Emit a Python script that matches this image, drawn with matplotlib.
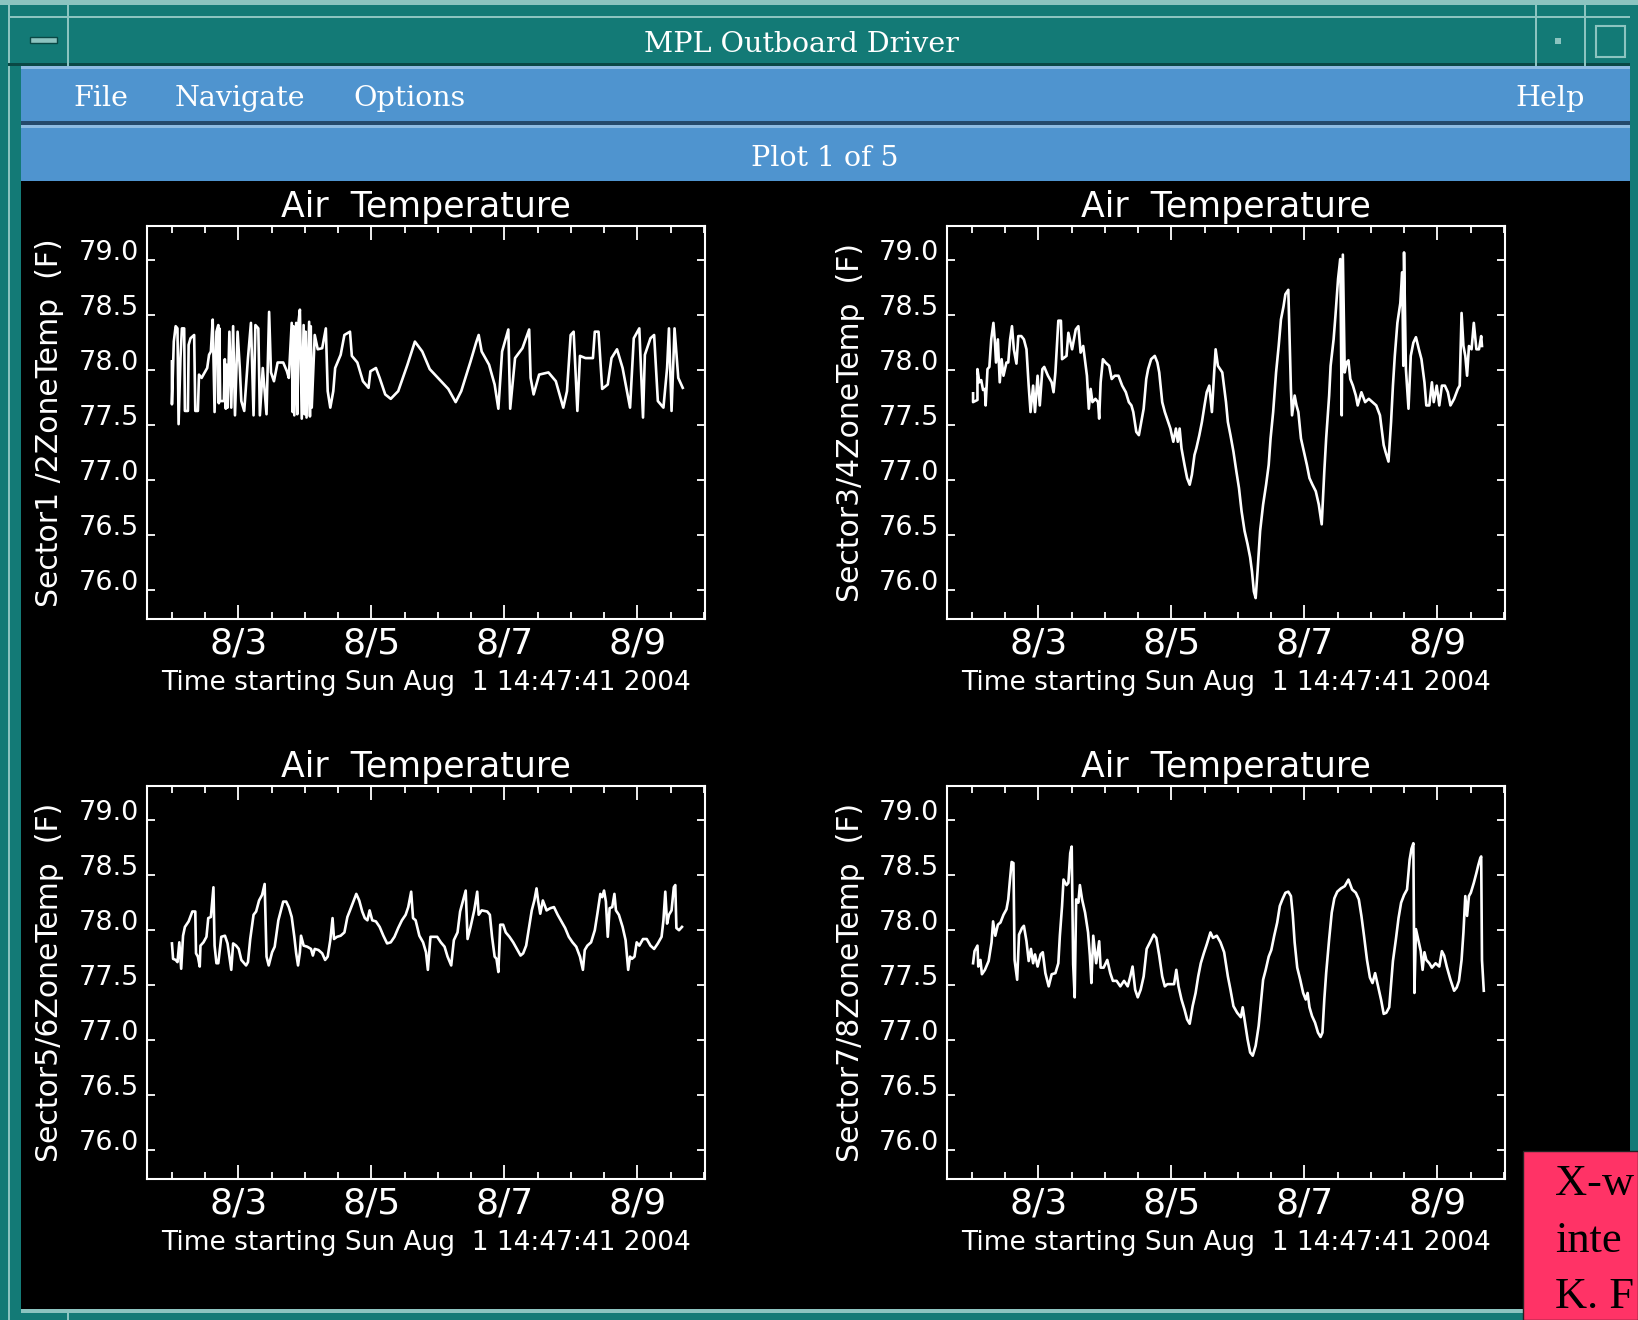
import matplotlib
matplotlib.use("Agg")
import matplotlib.pyplot as plt
from matplotlib.patches import Rectangle
import numpy as np

plt.rcParams["font.family"] = ["DejaVu Sans"]

W, H = 1638, 1320

# colours of the window chrome
TEAL = "#137a76"
TEAL_LIGHT = "#8cc4c0"
TEAL_DARK = "#0a4845"
BLUE = "#4f94cf"
BLUE_DARK = "#24496b"
BLUE_LIGHT = "#8dbbe2"
RED = "#ff3366"

window_title = "MPL Outboard Driver"
menu_left = ["File", "Navigate", "Options"]
menu_right = "Help"
plot_counter = "Plot 1 of 5"
note_lines = ["X-w", "inte", "K. F"]

plot_title = "Air  Temperature"
x_label = "Time starting Sun Aug  1 14:47:41 2004"
# days since Aug 1 14:47:41
x_major = [1.3836, 3.3836, 5.3836, 7.3836]
x_major_labels = ["8/3", "8/5", "8/7", "8/9"]
y_ticks = [76.0, 76.5, 77.0, 77.5, 78.0, 78.5, 79.0]

# (days since start, degrees F)
sector12 = [(0.385, 78.08), (0.385, 77.69), (0.413, 78.26), (0.441, 78.40), (0.468, 78.38), (0.485, 77.51),
            (0.513, 78.11), (0.535, 78.38), (0.569, 78.38), (0.580, 77.63), (0.625, 77.63), (0.636, 78.23),
            (0.664, 78.29), (0.719, 78.32), (0.736, 77.63), (0.775, 77.63), (0.792, 77.96), (0.831, 77.93),
            (0.887, 77.99), (0.915, 78.02), (0.943, 78.14), (0.970, 78.17), (0.998, 78.46), (1.026, 77.62),
            (1.054, 78.35), (1.082, 78.41), (1.090, 77.70), (1.098, 78.38), (1.110, 77.72), (1.166, 77.72),
            (1.180, 78.10), (1.195, 77.65), (1.205, 78.05), (1.221, 77.66), (1.249, 78.35),
            (1.277, 77.66), (1.305, 78.40), (1.333, 77.59), (1.372, 78.35), (1.405, 78.02), (1.428, 77.72),
            (1.472, 77.63), (1.528, 78.11), (1.573, 78.43), (1.612, 77.59), (1.640, 78.41), (1.684, 78.38),
            (1.707, 77.59), (1.751, 78.02), (1.807, 77.60), (1.846, 78.53), (1.874, 77.98), (1.919, 77.90),
            (1.974, 78.07), (2.058, 78.07), (2.114, 77.99), (2.142, 77.93), (2.186, 78.43), (2.200, 77.62),
            (2.212, 78.40), (2.225, 77.59), (2.253, 78.43), (2.270, 77.60), (2.290, 78.45), (2.309, 78.55),
            (2.337, 77.56), (2.365, 78.41), (2.380, 77.60), (2.395, 78.35), (2.409, 77.57), (2.448, 78.44),
            (2.460, 77.58), (2.472, 78.40),
            (2.487, 77.66), (2.532, 78.32), (2.577, 78.19), (2.644, 78.20), (2.699, 78.38), (2.727, 77.81),
            (2.766, 77.66), (2.811, 77.81), (2.839, 78.02), (2.922, 78.14), (2.978, 78.32), (3.062, 78.35),
            (3.090, 78.13), (3.173, 78.07), (3.257, 77.90), (3.341, 77.84), (3.369, 77.99), (3.452, 78.02),
            (3.508, 77.93), (3.592, 77.78), (3.675, 77.74), (3.787, 77.81), (3.926, 78.05), (4.038, 78.26),
            (4.149, 78.17), (4.261, 78.01), (4.400, 77.92), (4.540, 77.83), (4.651, 77.71), (4.735, 77.81),
            (4.875, 78.08), (4.958, 78.25), (4.997, 78.32), (5.042, 78.17), (5.153, 78.05), (5.237, 77.87),
            (5.293, 77.65), (5.349, 78.17), (5.443, 78.37), (5.471, 77.65), (5.544, 78.11), (5.655, 78.20),
            (5.756, 78.37), (5.778, 77.93), (5.823, 77.78), (5.906, 77.96), (6.046, 77.98), (6.157, 77.90),
            (6.269, 77.66), (6.325, 77.81), (6.380, 78.32), (6.425, 78.35), (6.481, 77.63), (6.520, 78.13),
            (6.603, 78.11), (6.715, 78.11), (6.743, 78.35), (6.799, 78.35), (6.854, 77.83), (6.938, 77.87),
            (6.994, 78.11), (7.077, 78.19), (7.161, 78.02), (7.273, 77.66), (7.329, 78.29), (7.412, 78.38),
            (7.468, 77.57), (7.496, 78.14), (7.580, 78.29), (7.635, 78.32), (7.691, 77.72), (7.775, 77.66),
            (7.830, 78.02), (7.858, 78.38), (7.897, 77.63), (7.942, 78.38), (7.998, 77.93), (8.065, 77.84)]

sector34 = [(0.402, 77.79), (0.402, 77.71), (0.468, 77.73), (0.468, 78.01), (0.496, 77.89), (0.524, 77.91),
            (0.552, 77.82), (0.580, 77.83), (0.591, 77.68), (0.619, 78.01), (0.647, 78.03), (0.675, 78.28),
            (0.708, 78.43), (0.731, 78.25), (0.747, 78.07), (0.775, 78.28), (0.803, 77.89), (0.831, 78.10),
            (0.859, 77.95), (0.904, 78.07), (0.931, 78.07), (0.959, 78.28), (0.987, 78.40), (1.015, 78.19),
            (1.054, 78.06), (1.082, 78.31), (1.127, 78.31), (1.166, 78.28), (1.205, 78.19), (1.238, 77.86),
            (1.266, 77.62), (1.305, 77.86), (1.333, 77.62), (1.372, 77.95), (1.405, 77.68), (1.444, 78.01),
            (1.472, 78.03), (1.528, 77.95), (1.584, 77.89), (1.612, 77.80), (1.640, 77.98), (1.684, 78.45),
            (1.723, 78.45), (1.740, 78.10), (1.807, 78.13), (1.835, 78.34), (1.891, 78.19), (1.946, 78.37),
            (1.985, 78.40), (2.019, 78.16), (2.058, 78.22), (2.114, 77.95), (2.142, 77.65), (2.170, 77.83),
            (2.197, 77.71), (2.242, 77.74), (2.281, 77.71), (2.298, 77.56), (2.320, 77.89), (2.354, 78.10),
            (2.393, 78.07), (2.448, 78.04), (2.487, 77.92), (2.532, 77.95), (2.588, 77.95), (2.644, 77.86),
            (2.699, 77.80), (2.744, 77.71), (2.783, 77.68), (2.811, 77.62), (2.856, 77.44), (2.895, 77.41),
            (2.922, 77.50), (2.967, 77.65), (3.006, 77.92), (3.034, 78.01), (3.079, 78.10), (3.134, 78.13),
            (3.173, 78.07), (3.201, 77.98), (3.246, 77.71), (3.285, 77.62), (3.324, 77.55), (3.369, 77.47),
            (3.413, 77.35), (3.452, 77.47), (3.480, 77.35), (3.508, 77.47), (3.536, 77.29), (3.581, 77.14),
            (3.620, 77.02), (3.659, 76.96), (3.692, 77.05), (3.731, 77.23), (3.759, 77.29), (3.804, 77.41),
            (3.843, 77.53), (3.882, 77.68), (3.915, 77.80), (3.954, 77.86), (3.993, 77.62), (4.027, 77.98),
            (4.049, 78.19), (4.083, 78.04), (4.149, 77.98), (4.205, 77.71), (4.233, 77.53), (4.272, 77.41),
            (4.317, 77.26), (4.361, 77.08), (4.400, 76.93), (4.439, 76.72), (4.484, 76.54), (4.529, 76.42),
            (4.568, 76.30), (4.596, 76.17), (4.624, 75.99), (4.651, 75.93), (4.679, 76.17), (4.718, 76.54),
            (4.763, 76.78), (4.808, 76.96), (4.847, 77.14), (4.875, 77.38), (4.914, 77.62), (4.958, 77.98),
            (4.997, 78.22), (5.031, 78.46), (5.070, 78.58), (5.098, 78.69), (5.142, 78.73), (5.181, 77.83),
            (5.198, 77.59), (5.237, 77.77), (5.265, 77.68), (5.293, 77.62), (5.332, 77.38), (5.376, 77.26),
            (5.421, 77.14), (5.460, 77.02), (5.505, 76.96), (5.555, 76.90), (5.600, 76.78), (5.644, 76.60),
            (5.683, 77.08), (5.711, 77.38), (5.756, 77.77), (5.778, 78.04), (5.823, 78.28), (5.850, 78.49),
            (5.890, 78.83), (5.923, 79.01), (5.945, 77.59), (5.962, 79.05), (5.990, 77.98), (6.018, 78.07),
            (6.046, 78.09), (6.074, 77.92), (6.113, 77.86), (6.157, 77.77), (6.185, 77.68), (6.241, 77.80),
            (6.297, 77.71), (6.352, 77.74), (6.408, 77.71), (6.464, 77.68), (6.520, 77.59), (6.576, 77.32),
            (6.603, 77.26), (6.648, 77.17), (6.687, 77.53), (6.715, 77.86), (6.743, 78.13), (6.782, 78.43),
            (6.826, 78.61), (6.854, 78.89), (6.871, 78.04), (6.882, 79.07), (6.910, 78.01), (6.949, 77.65),
            (6.983, 78.13), (7.022, 78.25), (7.061, 78.30), (7.105, 78.19), (7.144, 78.10), (7.189, 77.89),
            (7.217, 77.68), (7.262, 77.68), (7.301, 77.89), (7.329, 77.71), (7.373, 77.86), (7.412, 77.68),
            (7.451, 77.86), (7.496, 77.86), (7.541, 77.80), (7.580, 77.68), (7.635, 77.74), (7.691, 77.83),
            (7.719, 77.86), (7.747, 78.52), (7.775, 78.22), (7.803, 78.13), (7.830, 77.95), (7.858, 78.22),
            (7.897, 78.19), (7.931, 78.43), (7.970, 78.19), (8.009, 78.19), (8.042, 78.31), (8.054, 78.22)]

sector56 = [(0.385, 77.88), (0.402, 77.74), (0.441, 77.73), (0.468, 77.71), (0.496, 77.89), (0.524, 77.65),
            (0.552, 77.95), (0.580, 78.03), (0.636, 78.08), (0.692, 78.17), (0.736, 78.17), (0.747, 77.79),
            (0.775, 77.76), (0.803, 77.67), (0.814, 77.86), (0.859, 77.89), (0.904, 77.94), (0.931, 78.11),
            (0.970, 78.12), (1.009, 78.39), (1.026, 77.86), (1.054, 77.70), (1.082, 77.70), (1.127, 77.94),
            (1.182, 77.95), (1.221, 77.88), (1.249, 77.76), (1.277, 77.64), (1.305, 77.88), (1.350, 77.86),
            (1.389, 77.83), (1.428, 77.73), (1.500, 77.68), (1.528, 77.71), (1.562, 77.92), (1.612, 78.14),
            (1.651, 78.17), (1.695, 78.27), (1.740, 78.32), (1.779, 78.42), (1.807, 77.76), (1.840, 77.68),
            (1.891, 77.80), (1.930, 77.85), (1.985, 78.09), (2.058, 78.26), (2.103, 78.26), (2.142, 78.21),
            (2.186, 78.12), (2.225, 77.94), (2.253, 77.79), (2.281, 77.68), (2.309, 77.80), (2.326, 77.95),
            (2.365, 77.86), (2.420, 77.85), (2.476, 77.83), (2.504, 77.77), (2.532, 77.83), (2.588, 77.82),
            (2.644, 77.79), (2.688, 77.73), (2.727, 77.76), (2.766, 77.91), (2.800, 78.11), (2.822, 77.92),
            (2.867, 77.94), (2.922, 77.95), (2.978, 77.98), (3.023, 78.12), (3.062, 78.18), (3.118, 78.27),
            (3.157, 78.33), (3.201, 78.27), (3.246, 78.17), (3.285, 78.11), (3.324, 78.09), (3.357, 78.18),
            (3.397, 78.09), (3.452, 78.08), (3.508, 78.03), (3.564, 77.95), (3.620, 77.88), (3.675, 77.89),
            (3.731, 77.94), (3.787, 78.02), (3.843, 78.09), (3.899, 78.14), (3.938, 78.21), (3.982, 78.35),
            (4.010, 78.11), (4.049, 78.09), (4.105, 77.95), (4.161, 77.89), (4.205, 77.80), (4.233, 77.64),
            (4.272, 77.94), (4.317, 77.94), (4.373, 77.94), (4.428, 77.89), (4.484, 77.85), (4.529, 77.76),
            (4.584, 77.68), (4.624, 77.91), (4.679, 77.98), (4.718, 78.17), (4.763, 78.27), (4.802, 78.36),
            (4.830, 77.92), (4.875, 78.03), (4.930, 78.18), (4.975, 78.35), (4.997, 78.14), (5.042, 78.18),
            (5.125, 78.17), (5.165, 78.14), (5.198, 77.94), (5.237, 77.76), (5.265, 77.74), (5.293, 77.62),
            (5.321, 78.05), (5.365, 78.05), (5.404, 77.98), (5.460, 77.94), (5.516, 77.89), (5.572, 77.83),
            (5.627, 77.77), (5.666, 77.79), (5.711, 77.86), (5.756, 78.03), (5.795, 78.18), (5.834, 78.27),
            (5.867, 78.38), (5.890, 78.27), (5.923, 78.15), (5.962, 78.27), (6.018, 78.18), (6.074, 78.20),
            (6.129, 78.21), (6.185, 78.14), (6.241, 78.08), (6.297, 78.02), (6.352, 77.94), (6.408, 77.89),
            (6.464, 77.85), (6.520, 77.76), (6.564, 77.64), (6.592, 77.82), (6.631, 77.86), (6.687, 77.89),
            (6.743, 78.00), (6.782, 78.15), (6.826, 78.33), (6.854, 78.30), (6.882, 78.36), (6.910, 78.26),
            (6.938, 77.94), (6.966, 78.20), (7.005, 78.21), (7.038, 78.33), (7.061, 78.18), (7.105, 78.14),
            (7.161, 78.03), (7.206, 77.91), (7.245, 77.64), (7.273, 77.76), (7.301, 77.74), (7.340, 77.76),
            (7.373, 77.89), (7.412, 77.86), (7.468, 77.92), (7.524, 77.92), (7.580, 77.86), (7.635, 77.83),
            (7.691, 77.88), (7.747, 77.94), (7.775, 78.09), (7.803, 78.35), (7.830, 78.06), (7.858, 78.14),
            (7.897, 78.18), (7.931, 78.39), (7.953, 78.41), (7.970, 78.02), (8.009, 78.00), (8.054, 78.03)]

sector78 = [(0.402, 77.70), (0.424, 77.81), (0.468, 77.86), (0.480, 77.67), (0.513, 77.73), (0.535, 77.60),
            (0.580, 77.64), (0.636, 77.72), (0.680, 77.89), (0.703, 78.08), (0.736, 77.95), (0.775, 78.05),
            (0.814, 78.07), (0.859, 78.14), (0.904, 78.19), (0.931, 78.28), (0.954, 78.44), (0.982, 78.62),
            (1.009, 78.61), (1.026, 77.73), (1.065, 77.55), (1.093, 77.96), (1.138, 78.02), (1.166, 78.04),
            (1.205, 77.90), (1.238, 77.72), (1.272, 77.83), (1.305, 77.70), (1.333, 77.78), (1.372, 77.67),
            (1.417, 77.78), (1.450, 77.80), (1.489, 77.61), (1.539, 77.49), (1.584, 77.60), (1.640, 77.61),
            (1.684, 77.70), (1.707, 77.95), (1.740, 78.22), (1.762, 78.46), (1.807, 78.41), (1.835, 78.43),
            (1.863, 78.70), (1.885, 78.76), (1.907, 77.69), (1.930, 77.39), (1.952, 78.28), (1.985, 78.25),
            (2.008, 78.41), (2.041, 78.28), (2.086, 78.16), (2.131, 77.98), (2.158, 77.77), (2.181, 77.52),
            (2.209, 77.95), (2.253, 77.70), (2.298, 77.90), (2.320, 77.66), (2.365, 77.66), (2.420, 77.73),
            (2.465, 77.61), (2.504, 77.54), (2.560, 77.54), (2.616, 77.49), (2.672, 77.54), (2.727, 77.49),
            (2.766, 77.58), (2.800, 77.67), (2.839, 77.46), (2.878, 77.39), (2.922, 77.46), (2.967, 77.58),
            (3.012, 77.83), (3.062, 77.89), (3.118, 77.96), (3.157, 77.93), (3.201, 77.77), (3.246, 77.58),
            (3.285, 77.49), (3.324, 77.51), (3.369, 77.51), (3.424, 77.51), (3.458, 77.64), (3.491, 77.49),
            (3.536, 77.37), (3.581, 77.28), (3.620, 77.19), (3.659, 77.15), (3.703, 77.31), (3.748, 77.43),
            (3.787, 77.58), (3.826, 77.70), (3.871, 77.79), (3.915, 77.87), (3.971, 77.98), (4.010, 77.93),
            (4.066, 77.95), (4.122, 77.89), (4.177, 77.80), (4.233, 77.58), (4.272, 77.46), (4.317, 77.31),
            (4.373, 77.25), (4.428, 77.21), (4.456, 77.30), (4.484, 77.19), (4.529, 77.01), (4.568, 76.89),
            (4.607, 76.86), (4.651, 76.95), (4.696, 77.13), (4.735, 77.37), (4.763, 77.55), (4.802, 77.64),
            (4.847, 77.76), (4.886, 77.82), (4.930, 77.95), (4.975, 78.07), (5.014, 78.22), (5.053, 78.28),
            (5.098, 78.34), (5.142, 78.35), (5.181, 78.31), (5.209, 78.14), (5.237, 77.89), (5.276, 77.66),
            (5.321, 77.55), (5.365, 77.43), (5.404, 77.37), (5.432, 77.43), (5.460, 77.30), (5.499, 77.22),
            (5.544, 77.16), (5.588, 77.07), (5.627, 77.03), (5.655, 77.07), (5.683, 77.37), (5.711, 77.61),
            (5.756, 77.92), (5.795, 78.16), (5.834, 78.29), (5.878, 78.35), (5.934, 78.38), (5.990, 78.40),
            (6.046, 78.46), (6.101, 78.37), (6.157, 78.34), (6.202, 78.28), (6.241, 78.13), (6.280, 77.95),
            (6.325, 77.73), (6.369, 77.57), (6.408, 77.52), (6.447, 77.61), (6.492, 77.49), (6.536, 77.37),
            (6.576, 77.24), (6.615, 77.25), (6.659, 77.30), (6.687, 77.51), (6.715, 77.72), (6.760, 77.92),
            (6.799, 78.11), (6.838, 78.25), (6.882, 78.32), (6.927, 78.37), (6.966, 78.64), (6.994, 78.74),
            (7.022, 78.79), (7.038, 77.43), (7.061, 78.01), (7.094, 77.92), (7.133, 77.81), (7.161, 77.64),
            (7.189, 77.80), (7.217, 77.73), (7.262, 77.70), (7.301, 77.66), (7.356, 77.70), (7.412, 77.67),
            (7.451, 77.81), (7.485, 77.77), (7.524, 77.67), (7.580, 77.55), (7.635, 77.45), (7.674, 77.48),
            (7.708, 77.54), (7.747, 77.73), (7.775, 77.98), (7.803, 78.31), (7.830, 78.13), (7.858, 78.31),
            (7.886, 78.34), (7.931, 78.43), (7.970, 78.52), (7.998, 78.59), (8.026, 78.65), (8.042, 78.67),
            (8.054, 77.73), (8.081, 77.45)]

panels = [
    ("Sector1 /2ZoneTemp  (F)", sector12),
    ("Sector3/4ZoneTemp  (F)", sector34),
    ("Sector5/6ZoneTemp  (F)", sector56),
    ("Sector7/8ZoneTemp  (F)", sector78),
]


def box(fig, x0, y0, x1, y1, color, z=0, **kw):
    # rectangle given in pixel coords measured from the top-left corner
    r = Rectangle((x0 / W, 1 - y1 / H), (x1 - x0) / W, (y1 - y0) / H,
                  transform=fig.transFigure, facecolor=color, zorder=z, **kw)
    fig.add_artist(r)
    return r


fig = plt.figure(figsize=(W / 100, H / 100), dpi=100)
fig.patch.set_facecolor(TEAL)

# window frame and title bar
box(fig, 0, 0, W, 5, TEAL_LIGHT, edgecolor="none")
box(fig, 8, 5, 10, H, TEAL_LIGHT, edgecolor="none")
box(fig, 8, 16, 1630, 18, TEAL_LIGHT, edgecolor="none")
box(fig, 8, 63, 1630, 66, TEAL_DARK, edgecolor="none")
box(fig, 67, 5, 69, 66, TEAL_LIGHT, edgecolor="none")
box(fig, 1535, 5, 1537, 66, TEAL_LIGHT, edgecolor="none")
box(fig, 1584, 5, 1586, 66, TEAL_LIGHT, edgecolor="none")
box(fig, 30, 37, 57, 43, TEAL_LIGHT, edgecolor=TEAL_DARK, linewidth=1)
box(fig, 1555, 38, 1561, 44, TEAL_LIGHT, edgecolor="none")
box(fig, 1596, 26, 1625, 57, "none", edgecolor=TEAL_LIGHT, linewidth=1.5)
fig.text(801 / W, 1 - 44 / H, window_title, color="white", fontsize=20.5,
         family="DejaVu Serif", ha="center", va="center")

# menu bar and plot counter bar
box(fig, 21, 66, 1630, 69, BLUE_LIGHT, edgecolor="none")
box(fig, 21, 69, 1630, 121, BLUE, edgecolor="none")
box(fig, 21, 121, 1630, 125, BLUE_DARK, edgecolor="none")
box(fig, 21, 125, 1630, 128, BLUE_LIGHT, edgecolor="none")
box(fig, 21, 128, 1630, 181, BLUE, edgecolor="none")
for name, x in zip(menu_left, [73, 175, 353]):
    fig.text(x / W, 1 - 98 / H, name, color="white", fontsize=20.5,
             family="DejaVu Serif", ha="left", va="center")
fig.text(1515 / W, 1 - 98 / H, menu_right, color="white", fontsize=20.5,
         family="DejaVu Serif", ha="left", va="center")
fig.text(825 / W, 1 - 158 / H, plot_counter, color="white", fontsize=20.5,
         family="DejaVu Serif", ha="center", va="center")

# drawing area
box(fig, 21, 181, 1630, 1309, "black", edgecolor="none")
box(fig, 21, 1309, 1630, 1313, TEAL_LIGHT, edgecolor="none")
box(fig, 67, 1313, 69, H, TEAL_LIGHT, edgecolor="none")

# pixel boxes of the four plots: left, top, right, bottom
frames = [(147, 226, 705, 619), (947, 226, 1505, 619),
          (147, 786, 705, 1179), (947, 786, 1505, 1179)]

x_minor = np.arange(x_major[0] - 1.0, 8.40, 0.5)

for (label, series), (l, t, r, b) in zip(panels, frames):
    ax = fig.add_axes([l / W, 1 - b / H, (r - l) / W, (b - t) / H])
    ax.set_facecolor("black")
    days = [p[0] for p in series]
    temps = [p[1] for p in series]
    ax.plot(days, temps, color="white", lw=1.9)
    ax.set_xlim(0.01, 8.40)
    ax.set_ylim(75.74, 79.31)

    ax.set_xticks(x_major, x_major_labels)
    ax.set_xticks(x_minor, minor=True)
    ax.set_yticks(y_ticks, [f"{v:.1f}" for v in y_ticks])
    ax.tick_params(axis="both", which="both", direction="in", colors="white",
                   top=True, right=True, width=1.3)
    ax.tick_params(axis="x", which="major", length=10, pad=5.5, labelsize=26)
    ax.tick_params(axis="x", which="minor", length=5)
    ax.tick_params(axis="y", which="major", length=6, pad=6, labelsize=19.5)
    # the labels sit on their tick, as in the original plot
    for lab in ax.get_yticklabels():
        lab.set_va("baseline")
    for s in ax.spines.values():
        s.set_color("white")
        s.set_linewidth(1.5)

    ax.set_title(plot_title, color="white", fontsize=25, y=1 + 11 / (b - t), va="center")
    ax.set_xlabel(x_label, color="white", fontsize=19, va="center")
    ax.xaxis.set_label_coords(0.5, -64 / (b - t))
    ax.set_ylabel(label, color="white", fontsize=21.5, va="center")
    ax.yaxis.set_label_coords(-97 / (r - l), 0.5)

# the note box clipped at the lower right corner
box(fig, 1523, 1151, W, H, RED, z=5, edgecolor="#222222", linewidth=1)
for line, y in zip(note_lines, [1195, 1252, 1308]):
    fig.text(1555 / W, 1 - y / H, line, color="black", fontsize=32,
             family="Liberation Serif", ha="left", va="baseline", zorder=6)

fig.savefig("out.png", dpi=100, facecolor=fig.get_facecolor())
